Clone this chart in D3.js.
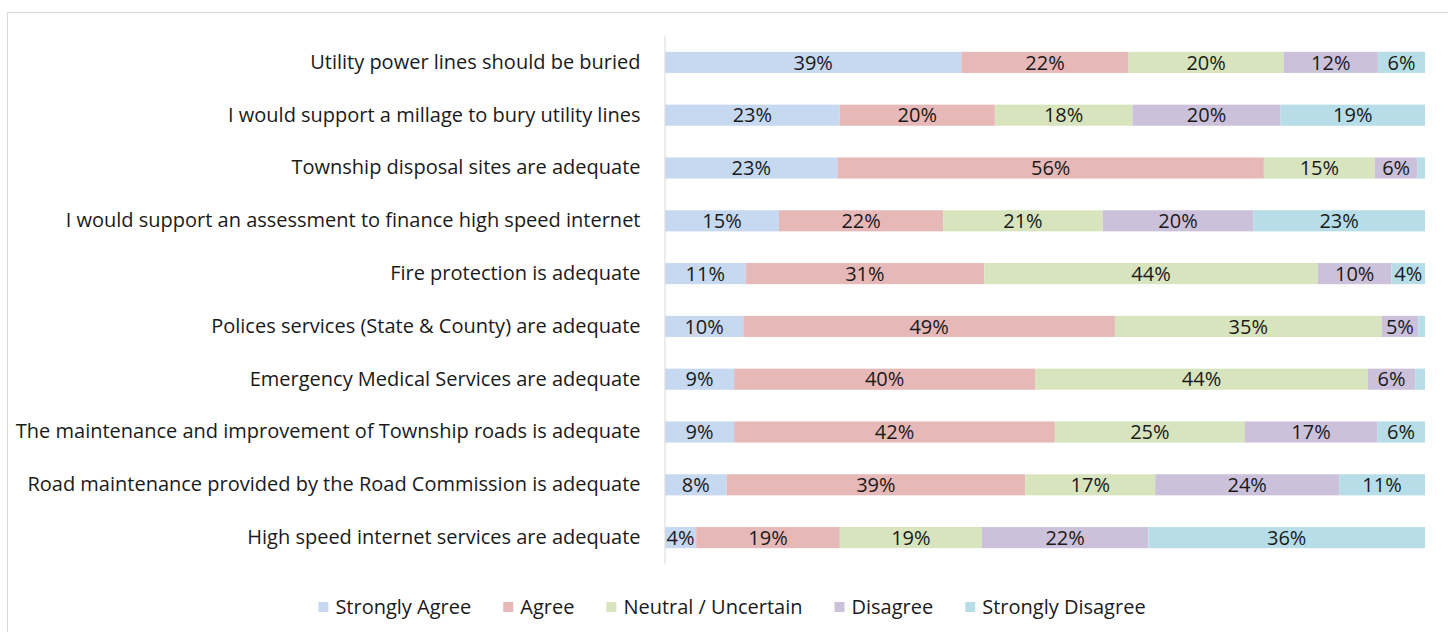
<!DOCTYPE html>
<html>
<head>
<meta charset="utf-8">
<script src="https://cdn.jsdelivr.net/npm/d3@7"></script>
<style>
  html, body { margin: 0; padding: 0; background: #fff; }
  svg { display: block; }
  text { font-family: "Open Sans", Lato, sans-serif; fill: #1a1a1a; }
</style>
</head>
<body>
<svg id="chart" width="1448" height="632"></svg>
<script>
// Survey statements, top to bottom
const statements = [
  "Utility power lines should be buried",
  "I would support a millage to bury utility lines",
  "Township disposal sites are adequate",
  "I would support an assessment to finance high speed internet",
  "Fire protection is adequate",
  "Polices services (State & County) are adequate",
  "Emergency Medical Services are adequate",
  "The maintenance and improvement of Township roads is adequate",
  "Road maintenance provided by the Road Commission is adequate",
  "High speed internet services are adequate"
];

// Response categories (stack order, left to right)
const responses = ["Strongly Agree", "Agree", "Neutral / Uncertain", "Disagree", "Strongly Disagree"];

// Share of respondents (%) per statement, one array per response
const stronglyAgree    = [39.0, 23.0, 22.7, 15.0, 10.6, 10.3,  9.1,  9.1,  8.1,  4.1];
const agree            = [22.0, 20.4, 56.1, 21.6, 31.4, 48.9, 39.6, 42.2, 39.3, 18.9];
const neutral          = [20.4, 18.1, 14.6, 21.0, 43.9, 35.1, 43.8, 25.0, 17.1, 18.7];
const disagree         = [12.4, 19.5,  5.6, 19.8,  9.7,  4.8,  6.2, 17.4, 24.2, 21.9];
const stronglyDisagree = [ 6.2, 19.0,  1.0, 22.6,  4.4,  0.9,  1.3,  6.3, 11.3, 36.4];

const seriesValues = [stronglyAgree, agree, neutral, disagree, stronglyDisagree];
const colors = ["#c6d9f1", "#e6b9b8", "#d7e4bd", "#ccc1da", "#b7dee8"];

const rows = statements.map((s, i) => {
  const r = { statement: s };
  responses.forEach((k, j) => { r[k] = seriesValues[j][i]; });
  return r;
});

const svg = d3.select("#chart");

// outer chart frame
svg.append("rect")
  .attr("x", 7.5).attr("y", 12.5)
  .attr("width", 1460).attr("height", 640)
  .attr("fill", "none").attr("stroke", "#d9d9d9").attr("stroke-width", 1);

const plot = { left: 665, right: 1425, top: 36, bottom: 564 };
const fontSize = "20px";

const x = d3.scaleLinear().domain([0, 100]).range([plot.left, plot.right]);
const y = d3.scaleBand().domain(statements)
  .range([plot.top, plot.bottom])
  .paddingInner(0.6).paddingOuter(0.3);
const color = d3.scaleOrdinal().domain(responses).range(colors);

const stacked = d3.stack().keys(responses)(rows);

const layers = svg.append("g").selectAll("g")
  .data(stacked).join("g")
  .attr("fill", d => color(d.key));

layers.selectAll("rect")
  .data(d => d.map(p => ({ p, key: d.key })))
  .join("rect")
  .attr("x", d => x(d.p[0]))
  .attr("y", d => y(d.p.data.statement))
  .attr("width", d => x(d.p[1]) - x(d.p[0]))
  .attr("height", y.bandwidth());

// value labels inside segments (very thin slivers stay unlabeled)
layers.selectAll("text")
  .data(d => d.map(p => ({ p, key: d.key })).filter(d => d.p[1] - d.p[0] >= 2))
  .join("text")
  .attr("x", d => (x(d.p[0]) + x(d.p[1])) / 2)
  .attr("y", d => y(d.p.data.statement) + y.bandwidth() / 2)
  .attr("dy", "0.36em")
  .attr("text-anchor", "middle")
  .style("font-size", fontSize)
  .text(d => Math.round(d.p[1] - d.p[0]) + "%");

// category axis
const yAxis = svg.append("g")
  .attr("transform", `translate(${plot.left - 0.5},0)`)
  .call(d3.axisLeft(y).tickSize(0).tickSizeOuter(0).tickPadding(24));
yAxis.select(".domain").attr("stroke", "#d9d9d9");
yAxis.selectAll("text")
  .style("font-size", fontSize)
  .style("font-family", "'Open Sans', Lato, sans-serif")
  .attr("fill", "#1a1a1a");

// legend
const legend = svg.append("g");
const legendY = 607;
let cx = 0;
const items = legend.selectAll("g").data(responses).join("g");
items.append("rect")
  .attr("width", 10).attr("height", 10)
  .attr("y", legendY - 5)
  .attr("fill", d => color(d));
items.append("text")
  .attr("x", 17)
  .attr("y", legendY)
  .attr("dy", "0.36em")
  .style("font-size", fontSize)
  .text(d => d);
items.each(function() {
  const g = d3.select(this);
  g.attr("transform", `translate(${cx},0)`);
  cx += 17 + g.select("text").node().getComputedTextLength() + 32;
});
const legendWidth = cx - 32;
legend.attr("transform", `translate(${732 - legendWidth / 2},0)`);
</script>
</body>
</html>
